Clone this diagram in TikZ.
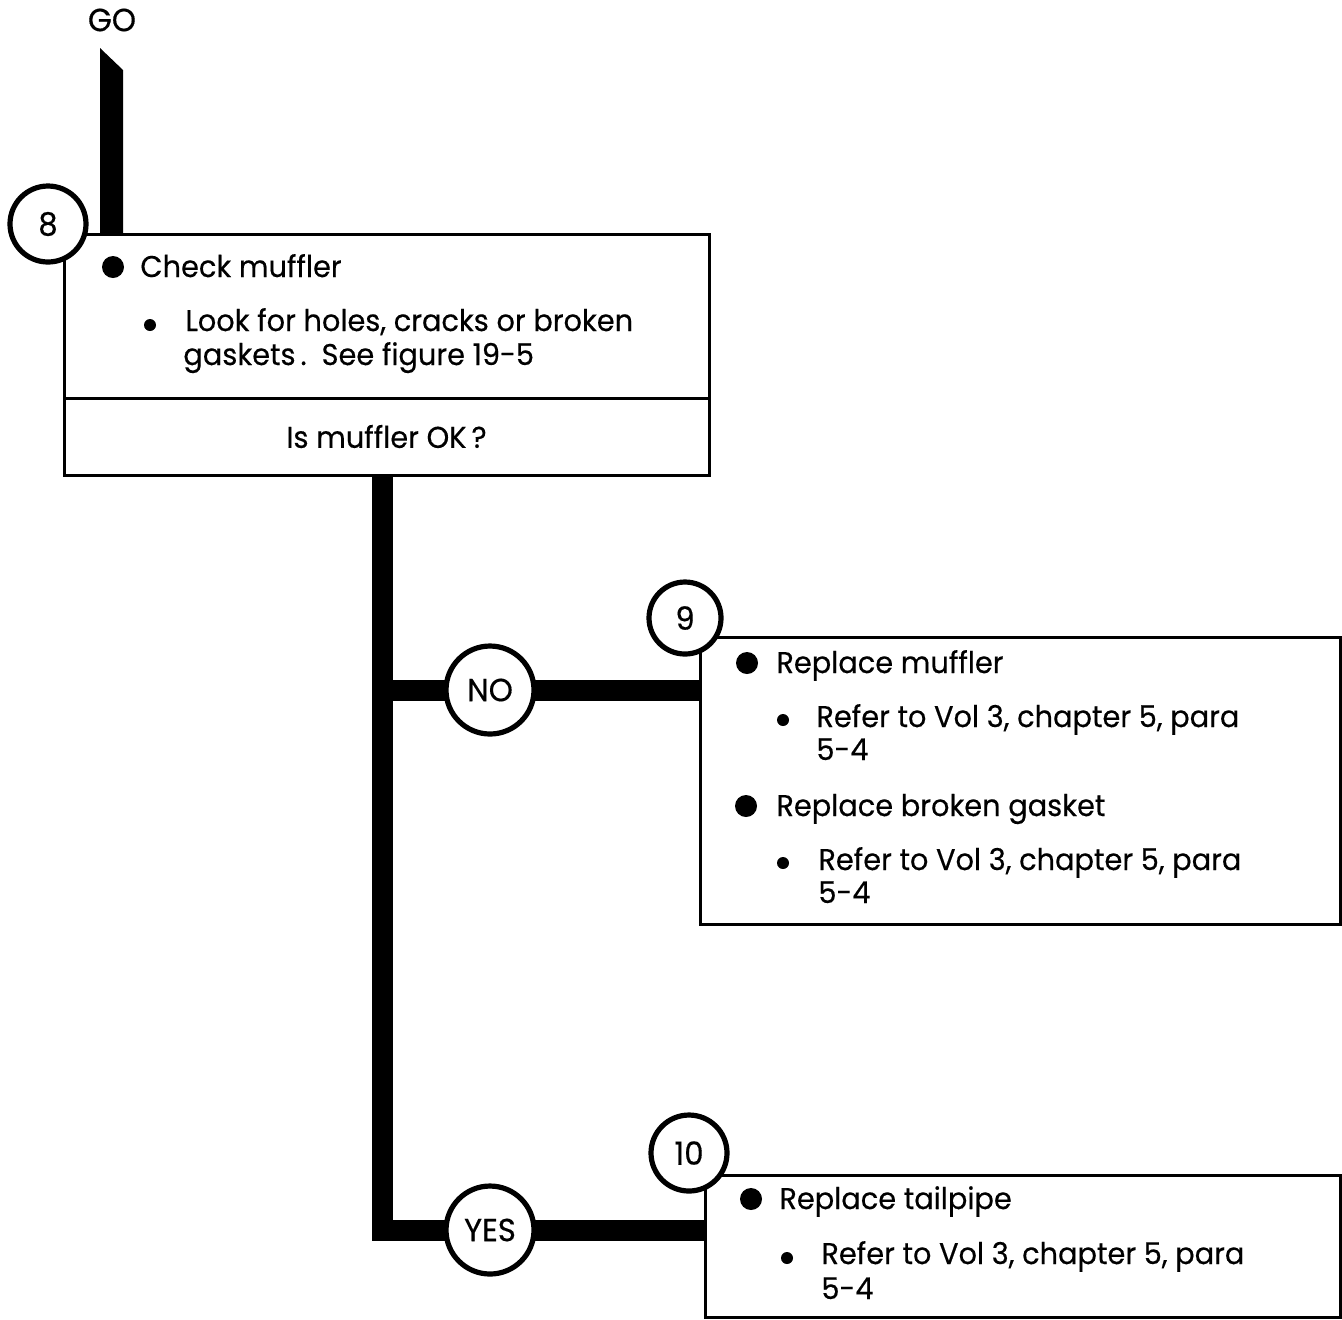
\documentclass[tikz,border=0pt]{standalone}
\usepackage{fontspec}
\setmainfont{Poppins}[FakeStretch=0.96, FakeBold=0.4]
\usetikzlibrary{positioning, calc, backgrounds}

\tikzset{
  stepbox/.style={draw, rectangle, line width=1.5pt, inner sep=0pt, outer sep=0pt, anchor=north west},
  numcirc/.style={draw, circle, line width=2.6pt, fill=white, inner sep=0pt, font=\fontsize{16}{18}\selectfont},
  pipe/.style={line width=10.5pt},
  txt/.style={anchor=base west, inner sep=0pt},
}

\begin{document}
\begin{tikzpicture}[x=0.5pt, y=-0.5pt, font=\fontsize{15}{18}\selectfont]
  \useasboundingbox (0,0) rectangle (1342,1319);

  % Step boxes
  \node[stepbox, minimum width=322.5pt, minimum height=82pt] (chk) at (64,234) {};
  \node[stepbox, minimum width=322.5pt, minimum height=38.5pt] (q) at (64,398) {Is muffler OK\,?};
  \node[stepbox, minimum width=320pt, minimum height=143.5pt] (repm) at (700,637) {};
  \node[stepbox, minimum width=317.5pt, minimum height=71pt] (rept) at (705,1175) {};

  % GO pipe
  \node[font=\fontsize{16}{18}\selectfont] (go) at (112,20) {GO};
  \coordinate (gotop) at (111.5,48);
  \coordinate (gobot) at (gotop |- chk.north);
  \fill ([xshift=-5.75pt]gotop) -- ([xshift=5.75pt,yshift=-11pt]gotop)
    -- ([xshift=5.75pt]gobot) -- ([xshift=-5.75pt]gobot) -- cycle;

  % Decision circles
  \node[numcirc, minimum size=44pt] (no) at (490,690) {NO};
  \node[numcirc, minimum size=44pt] (yes) at (490,1230) {YES};

  % Trunk and branches
  \coordinate (trunk) at ([xshift=-2.25pt]q.south);
  \begin{scope}[on background layer]
    \draw[pipe] (trunk) -- (trunk |- yes) -- (rept.west |- yes);
    \draw[pipe] (trunk |- no) -- (repm.west |- no);
  \end{scope}

  % Step numbers
  \node[numcirc, minimum size=38pt] (n8) at (48,224) {8};
  \node[numcirc, minimum size=36pt] (n9) at (685,618) {9};
  \node[numcirc, minimum size=38pt] (n10) at (689,1153) {10};

  % Step 8 text
  \fill (113,267) circle[radius=11];
  \node[txt] (chkt) at (140,277) {Check muffler};
  \fill (150,325) circle[radius=6];
  \node[txt] (look) at (185,331) {Look for holes, cracks or broken};
  \node[txt] (look2) at (183,365) {gaskets\,.\enspace See figure 19-5};

  % Step 9 text
  \fill (747,663) circle[radius=11];
  \node[txt] (rm) at (776,673) {Replace muffler};
  \fill (783,720) circle[radius=6];
  \node[txt] (rm1) at (816,727) {Refer to Vol 3, chapter 5, para};
  \node[txt] (rm2) at (816,760) {5-4};
  \fill (746,806) circle[radius=11];
  \node[txt] (rg) at (776,816) {Replace broken gasket};
  \fill (783,863) circle[radius=6];
  \node[txt] (rg1) at (818,870) {Refer to Vol 3, chapter 5, para};
  \node[txt] (rg2) at (818,903) {5-4};

  % Step 10 text
  \fill (751,1199) circle[radius=11];
  \node[txt] (rt) at (779,1209) {Replace tailpipe};
  \fill (787,1258) circle[radius=6];
  \node[txt] (rt1) at (821,1264) {Refer to Vol 3, chapter 5, para};
  \node[txt] (rt2) at (821,1299) {5-4};
\end{tikzpicture}
\end{document}
